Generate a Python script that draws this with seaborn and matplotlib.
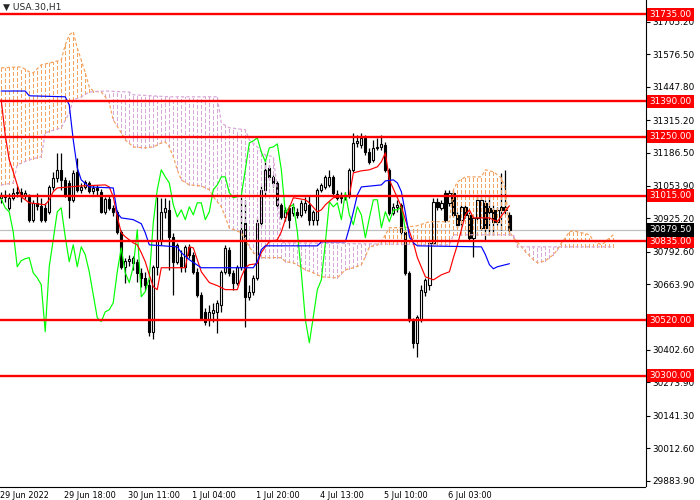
import numpy as np
import pandas as pd
import seaborn as sns
import matplotlib.pyplot as plt

# USA.30 H1 candles, bar 0 = 29 Jun 2022 02:00
opens = [31007, 31019, 30967, 31007, 31027, 31031, 31015, 31011, 30920, 30987,
         30975, 30967, 30951, 31050, 31086, 31118, 31078, 31066, 30999, 31110,
         31039, 31050, 31066, 31035, 31046, 31031, 30951, 31003, 30967, 30951,
         30872, 30733, 30757, 30749, 30753, 30709, 30689, 30662, 30475, 30733,
         30840, 30951, 30959, 30852, 30753, 30773, 30733, 30812, 30781, 30713,
         30622, 30554, 30523, 30550, 30554, 30582, 30713, 30800, 30709, 30670,
         30733, 30908, 30614, 30634, 30689, 30908, 31039, 31126, 31090, 31066,
         30979, 30931, 30967, 30947, 30951, 30939, 30959, 30979, 30920, 30920,
         31039, 31050, 31058, 31090, 31023, 31007, 31011, 31015, 31118, 31225,
         31217, 31245, 31189, 31158, 31205, 31209, 31217, 31118, 30947, 30971,
         30979, 30872, 30709, 30523, 30431, 30523, 30634, 30662, 30828, 30991,
         30967, 31027, 30987, 31027, 30939, 30920, 30971, 30939, 30848, 30927,
         30888, 30987, 30967, 30959, 30912, 30971, 30959, 30939]
closes = [31019, 31011, 31007, 31027, 31031, 31015, 31027, 30920, 30987, 30975,
          30920, 30920, 31050, 31086, 31118, 31078, 31019, 30999, 31106, 31039,
          31050, 31070, 31035, 31046, 31039, 30951, 31003, 30967, 30951, 30872,
          30733, 30757, 30765, 30769, 30709, 30689, 30662, 30475, 30733, 30840,
          30951, 30967, 30852, 30753, 30820, 30733, 30812, 30781, 30713, 30622,
          30531, 30515, 30554, 30562, 30590, 30713, 30808, 30709, 30670, 30733,
          30880, 30614, 30634, 30689, 30908, 31039, 31118, 31090, 31066, 30979,
          30931, 30959, 30920, 30971, 30939, 30987, 30987, 30920, 30951, 31039,
          31058, 31090, 31090, 31027, 31007, 31011, 31015, 31118, 31225, 31233,
          31245, 31189, 31150, 31205, 31209, 31221, 31118, 30947, 30971, 30979,
          30872, 30709, 30523, 30431, 30535, 30642, 30681, 30828, 30991, 30971,
          30987, 30920, 31027, 30939, 30900, 30971, 30939, 30848, 30927, 30999,
          30999, 30888, 30951, 30912, 30959, 30959, 30971, 30879.5]
highs = [31031, 31039, 31027, 31046, 31054, 31046, 31039, 31023, 30999, 31027,
         31007, 30987, 31058, 31110, 31185, 31185, 31090, 31078, 31118, 31166,
         31066, 31078, 31074, 31058, 31058, 31042, 31011, 31015, 30979, 30959,
         30880, 30769, 30781, 30777, 30765, 30729, 30713, 30685, 30741, 31011,
         31007, 31007, 30999, 30868, 30828, 30801, 30820, 30824, 30793, 30729,
         30634, 30570, 30582, 30590, 30602, 30721, 30820, 30812, 30721, 30741,
         31011, 30999, 30662, 30701, 30927, 31054, 31158, 31138, 31098, 31074,
         30987, 30971, 30979, 30987, 30967, 30999, 31011, 31019, 30959, 31046,
         31066, 31098, 31118, 31098, 31039, 31031, 31031, 31126, 31265, 31257,
         31265, 31257, 31205, 31237, 31245, 31257, 31229, 31126, 30987, 30999,
         30987, 30880, 30717, 30531, 30543, 30662, 30689, 30840, 31007, 31007,
         30999, 31039, 31039, 31039, 30951, 30979, 30979, 30951, 30939, 31019,
         31011, 30999, 31019, 30979, 30971, 31106, 31118, 30951]
lows = [30987, 30991, 30959, 30999, 31011, 30991, 31003, 30912, 30912, 30959,
        30912, 30912, 30943, 31039, 31070, 31039, 31011, 30927, 30991, 31031,
        31027, 31043, 31027, 31023, 31019, 30947, 30943, 30959, 30935, 30864,
        30725, 30670, 30737, 30721, 30674, 30654, 30642, 30459, 30447, 30701,
        30820, 30927, 30721, 30622, 30745, 30713, 30713, 30769, 30705, 30614,
        30523, 30503, 30499, 30515, 30471, 30554, 30705, 30697, 30642, 30662,
        30721, 30495, 30602, 30622, 30681, 30896, 31019, 31078, 31050, 30971,
        30924, 30916, 30888, 30935, 30927, 30931, 30947, 30900, 30900, 30900,
        31031, 31043, 31050, 31019, 30999, 30987, 30999, 31007, 31110, 31209,
        31205, 31177, 31142, 31150, 31197, 31197, 31110, 30939, 30939, 30951,
        30864, 30701, 30515, 30412, 30376, 30515, 30618, 30642, 30820, 30959,
        30959, 30912, 30975, 30931, 30888, 30900, 30927, 30840, 30773, 30920,
        30880, 30840, 30860, 30860, 30900, 30880, 30939, 30860]

# Ichimoku lines as (bar, price) points
tenkan_bar = [0, 1, 2, 3, 4, 5, 6, 7, 11, 12, 13, 14, 20, 26, 27, 28, 29, 30, 31, 33,
              34, 35, 36, 37, 38, 39, 40, 46, 47, 48, 49, 50, 52, 54, 56, 59, 60, 61, 62, 64,
              65, 66, 67, 69, 70, 71, 72, 73, 76, 77, 79, 80, 81, 83, 87, 88, 90, 92, 94, 95,
              96, 97, 100, 101, 103, 104, 106, 108, 110, 112, 113, 114, 115, 116, 117, 118,
              122, 124, 125, 127]
tenkan_val = [31396, 31257, 31158, 31110, 31058, 31011, 30999, 30987, 30979, 30999,
              31031, 31046, 31054, 31058, 31050, 31011, 30931, 30868, 30852, 30828,
              30820, 30789, 30753, 30701, 30654, 30642, 30729, 30729, 30812, 30808,
              30761, 30713, 30670, 30658, 30642, 30642, 30693, 30729, 30741, 30745,
              30789, 30812, 30832, 30840, 30872, 30920, 30967, 31007, 30999, 30987,
              30951, 30959, 30979, 31007, 31015, 31106, 31114, 31118, 31130, 31150,
              31185, 31078, 30971, 30920, 30828, 30769, 30693, 30681, 30701, 30713,
              30769, 30820, 30880, 30939, 30959, 30927, 30927, 30912, 30935, 30975]

kijun_bar = [0, 6, 7, 16, 17, 18, 19, 20, 22, 28, 29, 30, 33, 35, 36, 37, 44, 45, 47, 50,
             63, 64, 65, 66, 79, 80, 86, 87, 88, 89, 90, 95, 96, 98, 99, 100, 101, 102, 103,
             104, 120, 121, 122, 123, 124, 127]
kijun_val = [31431, 31431, 31412, 31408, 31376, 31237, 31126, 31078, 31050, 31046,
             30947, 30927, 30920, 30904, 30868, 30820, 30812, 30789, 30761, 30729,
             30729, 30753, 30801, 30816, 30816, 30832, 30832, 30888, 30951, 31019,
             31050, 31058, 31074, 31078, 31066, 31031, 30947, 30852, 30828, 30816,
             30812, 30781, 30741, 30725, 30733, 30745]

span_a_bar = [0, 5, 7, 8, 10, 13, 15, 16, 17, 18, 19, 20, 21, 22, 23, 25, 26, 27, 28, 30,
              31, 33, 36, 38, 40, 41, 42, 43, 44, 45, 47, 50, 52, 53, 55, 56, 57, 60, 61, 62,
              63, 65, 70, 71, 73, 76, 78, 80, 84, 86, 88, 90, 91, 92, 94, 95, 96, 97, 100, 104,
              107, 112, 113, 114, 116, 120, 121, 123, 125, 126, 127, 128, 130, 131, 133, 134,
              136, 138, 139, 140, 141, 142, 143, 145, 147, 148, 150, 151, 152, 153]
span_a_val = [31523, 31527, 31507, 31503, 31535, 31546, 31554, 31614, 31654, 31666,
              31602, 31554, 31503, 31447, 31431, 31427, 31408, 31384, 31316, 31265,
              31237, 31209, 31205, 31209, 31225, 31229, 31209, 31170, 31118, 31078,
              31058, 31054, 31039, 31011, 30971, 30931, 30888, 30868, 30840, 30812,
              30789, 30769, 30769, 30753, 30749, 30721, 30709, 30693, 30689, 30721,
              30729, 30741, 30773, 30812, 30820, 30832, 30860, 30888, 30888, 30896,
              30912, 30912, 31039, 31070, 31090, 31090, 31118, 31110, 31086, 31039,
              30872, 30848, 30812, 30793, 30761, 30749, 30757, 30781, 30801, 30828,
              30848, 30872, 30876, 30868, 30860, 30836, 30820, 30832, 30848, 30860]

span_b_bar = [0, 3, 4, 7, 10, 11, 15, 17, 18, 20, 22, 26, 32, 33, 42, 54, 55, 57, 61, 62,
              64, 65, 66, 68, 69, 70, 112, 113, 128, 129, 153]
span_b_val = [31058, 31066, 31138, 31158, 31170, 31265, 31285, 31344, 31396, 31408,
              31427, 31431, 31427, 31416, 31408, 31408, 31304, 31285, 31277, 31237,
              31209, 31189, 31177, 31170, 31039, 30828, 30820, 30860, 30860, 30812,
              30812]

levels = [31735, 31390, 31250, 31015, 30835, 30520, 30300]
last_price = 30879.5
price_ticks = [31705.2, 31576.5, 31447.8, 31315.2, 31186.5, 31053.9, 30925.2,
               30792.6, 30663.9, 30402.6, 30273.9, 30141.3, 30012.6, 29883.9]
time_ticks = [0, 16, 32, 48, 64, 80, 96, 112]
time_labels = ["29 Jun 2022", "29 Jun 18:00", "30 Jun 11:00", "1 Jul 04:00",
               "1 Jul 20:00", "4 Jul 13:00", "5 Jul 10:00", "6 Jul 03:00"]
lag = 26

sns.set_style("white")
plt.rcParams["font.family"] = ["DejaVu Sans"]
plt.rcParams["lines.scale_dashes"] = False

fig = plt.figure(figsize=(7, 5), dpi=100)
ax = fig.add_axes([0, 13.5 / 500, 645.5 / 700, 486.5 / 500])

bars = np.arange(len(closes))
o = np.array(opens, dtype=float)
c = np.array(closes, dtype=float)
up = c >= o

# candles
ax.vlines(bars, lows, highs, color="black", lw=0.9, zorder=2)
ax.bar(bars[up], (c - o)[up], bottom=o[up], width=0.55, color="white",
       edgecolor="black", linewidth=0.8, zorder=3)
ax.bar(bars[~up], (c - o)[~up], bottom=o[~up], width=0.55, color="black",
       edgecolor="black", linewidth=0.8, zorder=3)

# kumo hatching, one dotted stroke per bar between the spans
dots = (0, (2.3, 1.6))
kb = np.arange(0, span_a_bar[-1] + 1)
sa = np.interp(kb, span_a_bar, span_a_val)
sb = np.interp(kb, span_b_bar, span_b_val)
bull = sa >= sb
ax.vlines(kb[bull], sb[bull], sa[bull], color="#F4A460", lw=1.0,
          linestyles=[dots], antialiased=False, zorder=4)
ax.vlines(kb[~bull], sa[~bull], sb[~bull], color="#D8A8D8", lw=1.0,
          linestyles=[dots], antialiased=False, zorder=4)

span_a = pd.DataFrame({"bar": span_a_bar, "price": span_a_val})
span_b = pd.DataFrame({"bar": span_b_bar, "price": span_b_val})
sns.lineplot(data=span_a, x="bar", y="price", ax=ax, color="#F4A460", lw=0.9,
             linestyle=dots, zorder=4)
sns.lineplot(data=span_b, x="bar", y="price", ax=ax, color="#D8A8D8", lw=0.9,
             linestyle=dots, zorder=4)

chikou = pd.DataFrame({"bar": bars[lag:] - lag, "price": closes[lag:]})
tenkan = pd.DataFrame({"bar": tenkan_bar, "price": tenkan_val})
kijun = pd.DataFrame({"bar": kijun_bar, "price": kijun_val})
sns.lineplot(data=chikou, x="bar", y="price", ax=ax, color="#00FF00", lw=0.85, zorder=5)
sns.lineplot(data=tenkan, x="bar", y="price", ax=ax, color="#FF0000", lw=0.85, zorder=5)
sns.lineplot(data=kijun, x="bar", y="price", ax=ax, color="#0000FF", lw=0.85, zorder=5)

# price line and support / resistance levels
ax.axhline(last_price, color="#C0C0C0", lw=0.9, zorder=1)
for lv in levels:
    ax.axhline(lv, color="#FF0000", lw=1.7, zorder=6)

ax.set_xlim(-0.3, 161.0)
ax.set_ylim(29860.1, 31792.5)

ax.yaxis.tick_right()
ax.set_yticks(price_ticks)
ax.set_yticklabels([f"{v:.2f}" for v in price_ticks])
ax.set_xticks([t - 0.3 for t in time_ticks])
ax.set_xticklabels(time_labels, ha="left")
ax.tick_params(axis="y", length=3, width=0.8, labelsize=6.4, pad=2, colors="black")
ax.tick_params(axis="x", length=3, width=0.8, labelsize=5.9, pad=0.5, colors="black")
ax.set_xlabel("")
ax.set_ylabel("")
for side in ("top", "left"):
    ax.spines[side].set_visible(False)
for side in ("right", "bottom"):
    ax.spines[side].set_color("black")
    ax.spines[side].set_linewidth(0.8)

trans = ax.get_yaxis_transform()
for lv in levels:
    ax.text(1.006, lv, f"{lv:.2f}", transform=trans, color="white", fontsize=6.4,
            va="center", ha="left", zorder=10, clip_on=False,
            bbox=dict(boxstyle="square,pad=0.25", fc="#FF0000", ec="none"))
ax.text(1.006, last_price, f"{last_price:.2f}", transform=trans, color="white",
        fontsize=6.4, va="center", ha="left", zorder=10, clip_on=False,
        bbox=dict(boxstyle="square,pad=0.25", fc="black", ec="none"))

fig.text(3 / 700, 1 - 7 / 500, "\u25bc USA.30,H1", fontsize=6.6, va="center", ha="left")

fig.savefig("out.png", dpi=100)
